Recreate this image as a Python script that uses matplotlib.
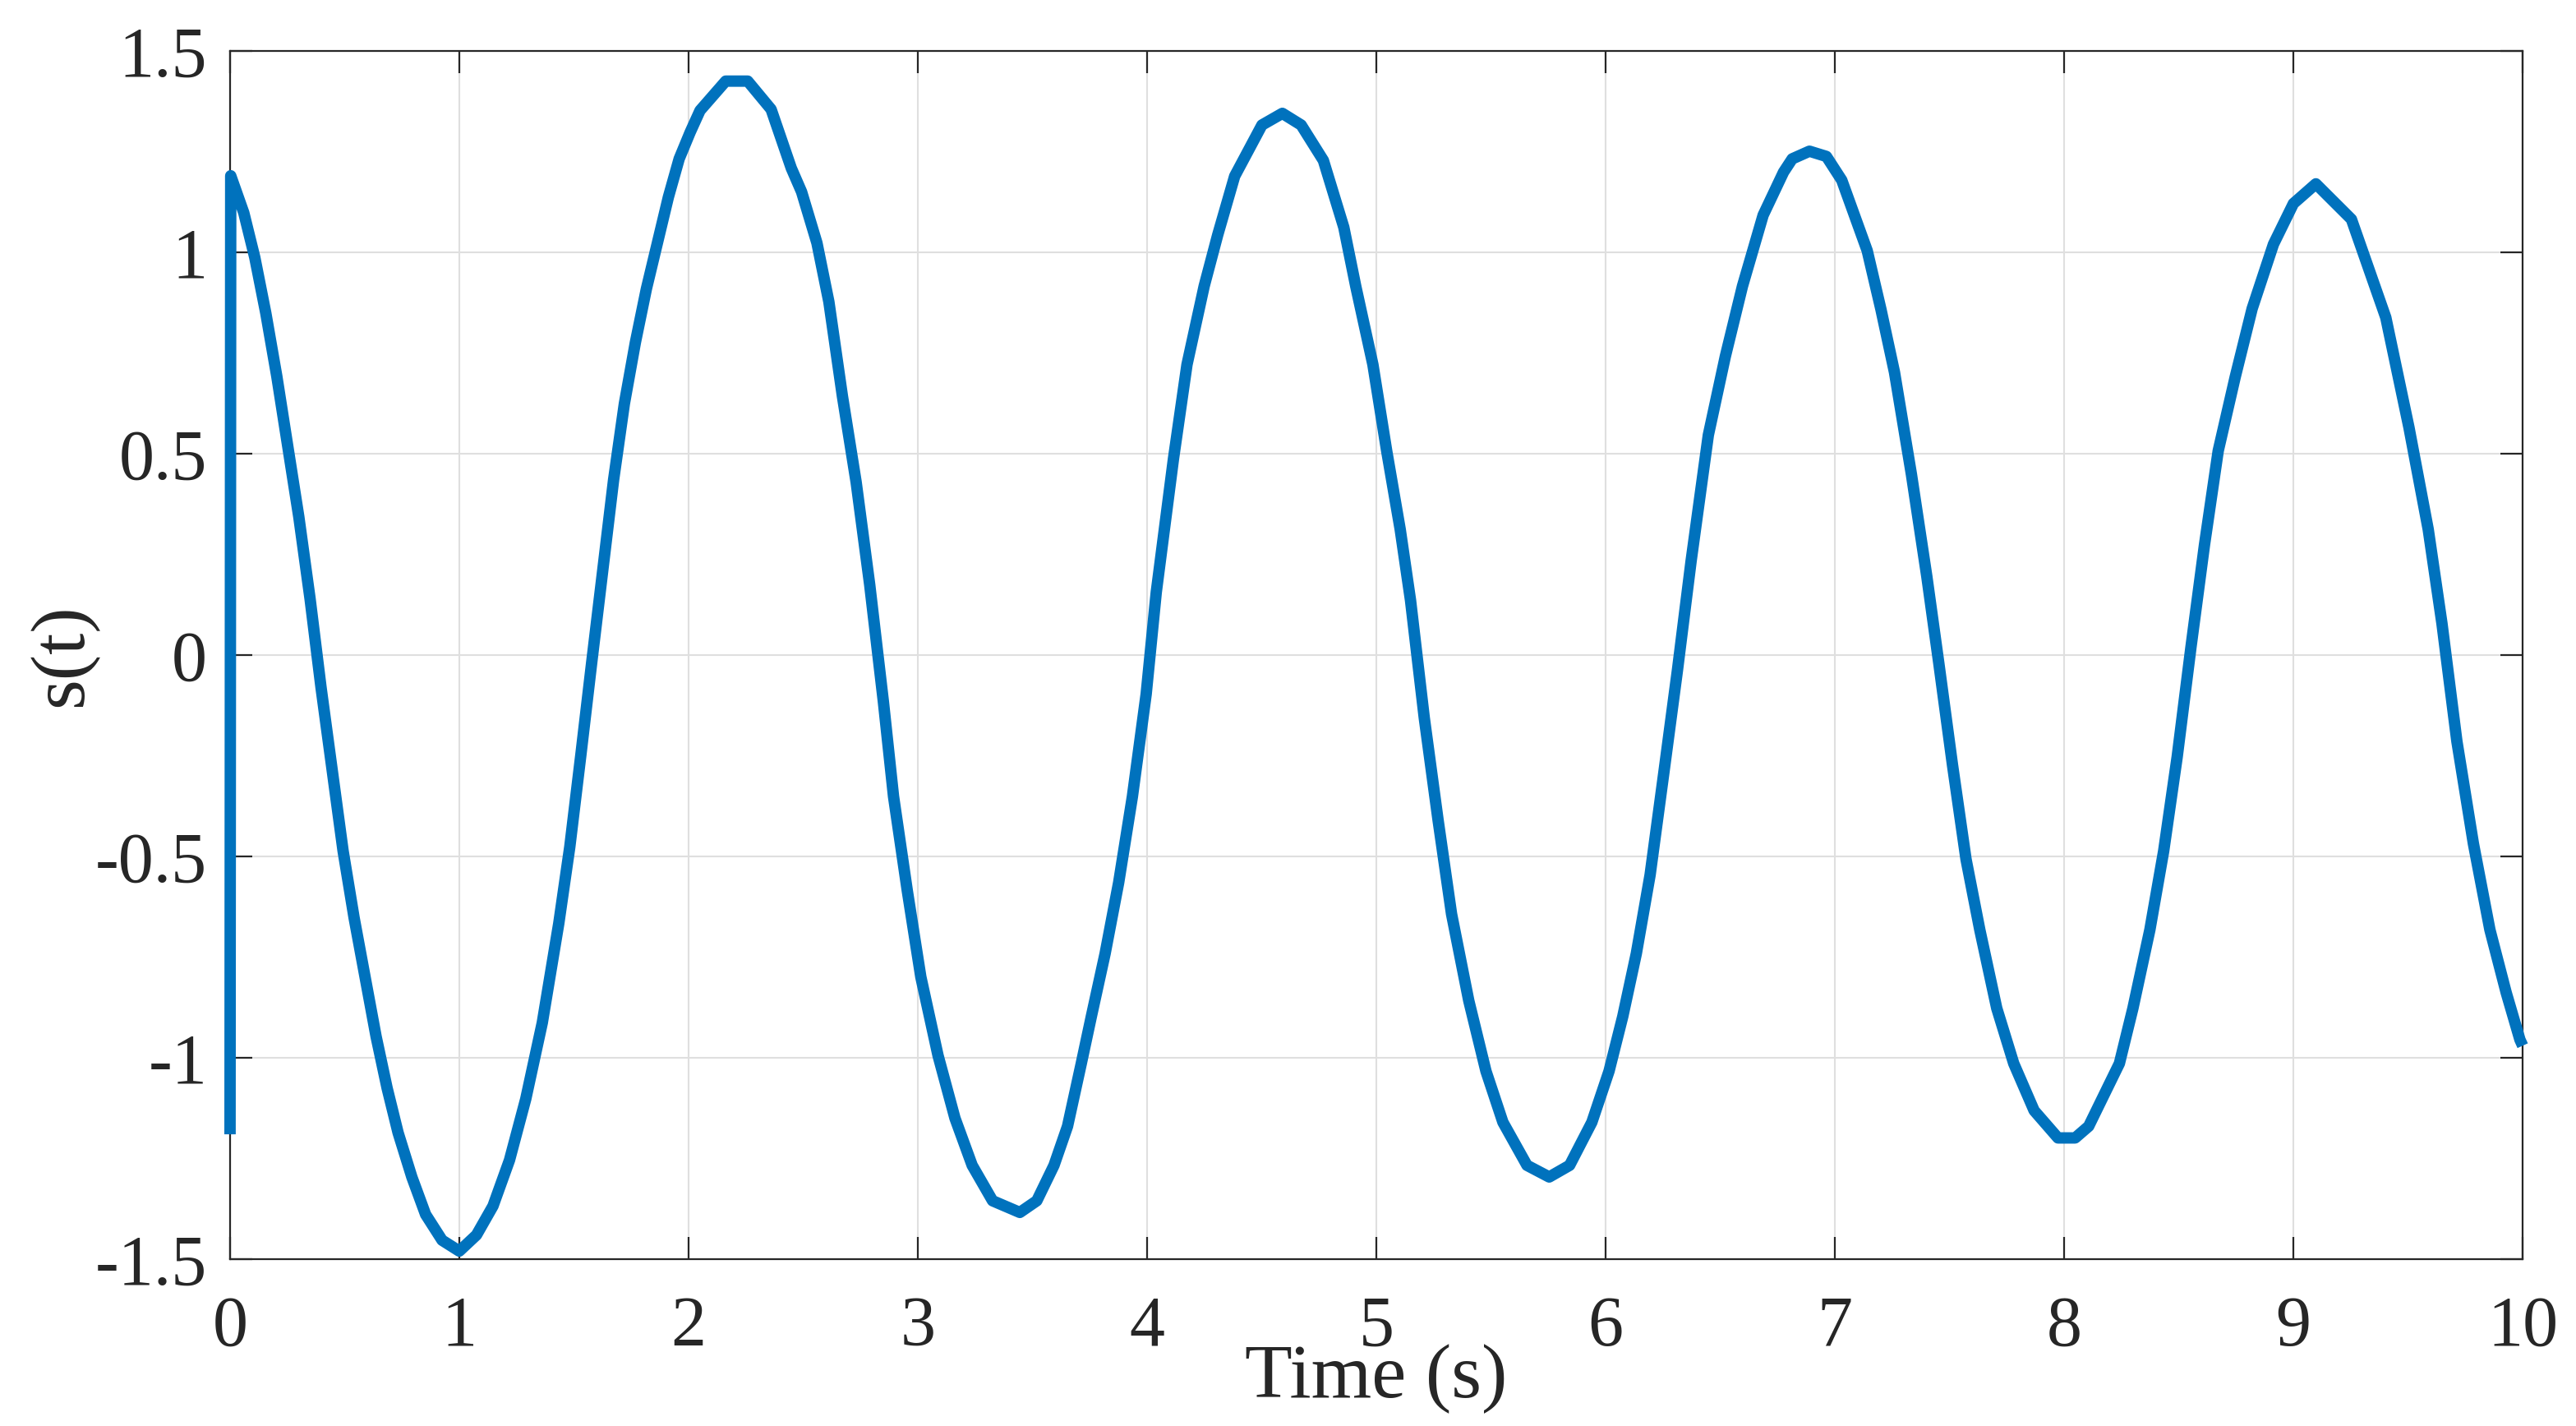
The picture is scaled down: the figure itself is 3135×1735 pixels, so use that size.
import matplotlib
matplotlib.use("Agg")
import matplotlib.pyplot as plt

t = [0.0, 0.003, 0.060, 0.108, 0.156, 0.204, 0.252, 0.300, 0.349, 0.397,
     0.445, 0.493, 0.541, 0.589, 0.637, 0.685, 0.733, 0.793, 0.853, 0.925,
     1.0, 1.075, 1.147, 1.219, 1.290, 1.362, 1.434, 1.482, 1.530, 1.577,
     1.625, 1.673, 1.720, 1.768, 1.816, 1.864, 1.912, 1.959, 2.007, 2.050,
     2.162, 2.258, 2.360, 2.448, 2.493, 2.560, 2.612,
     2.671, 2.731, 2.790, 2.850, 2.894, 2.954, 3.013, 3.088, 3.162, 3.237,
     3.326, 3.445, 3.519, 3.594, 3.653, 3.713, 3.757, 3.817, 3.876, 3.936,
     3.996, 4.040, 4.115, 4.174, 4.249, 4.308, 4.382, 4.501, 4.590, 4.672,
     4.769, 4.858, 4.910, 4.985, 5.045, 5.104, 5.149, 5.209, 5.269, 5.328,
     5.403, 5.478, 5.552, 5.657, 5.754, 5.843, 5.940, 6.015, 6.075, 6.134,
     6.194, 6.254, 6.313, 6.373, 6.448, 6.522, 6.597, 6.687, 6.776, 6.814,
     6.889, 6.963, 7.030, 7.141, 7.201, 7.260, 7.334, 7.401, 7.453, 7.513,
     7.572, 7.632, 7.706, 7.780, 7.869, 7.973, 8.048, 8.107, 8.241, 8.300,
     8.374, 8.434, 8.493, 8.553, 8.612, 8.672, 8.746, 8.820, 8.913, 9.0,
     9.098, 9.253, 9.403, 9.504, 9.588, 9.648, 9.713, 9.785, 9.857, 9.928,
     9.988, 10.0]
s = [-1.19, 1.19, 1.098, 0.987, 0.849, 0.692, 0.517, 0.343, 0.140, -0.081,
     -0.284, -0.486, -0.652, -0.799, -0.947, -1.075, -1.186, -1.296, -1.389, -1.453,
     -1.48, -1.44, -1.368, -1.254, -1.102, -0.913, -0.666, -0.476, -0.249, -0.021,
     0.207, 0.435, 0.624, 0.776, 0.909, 1.023, 1.137, 1.232, 1.298, 1.352,
     1.425, 1.425, 1.355, 1.209, 1.150, 1.023, 0.877,
     0.643, 0.429, 0.175, -0.117, -0.351, -0.585, -0.799, -0.994, -1.150, -1.267,
     -1.355, -1.384, -1.355, -1.267, -1.170, -1.014, -0.897, -0.741, -0.565, -0.351,
     -0.097, 0.156, 0.487, 0.721, 0.916, 1.043, 1.189, 1.316, 1.345, 1.316,
     1.228, 1.062, 0.916, 0.721, 0.507, 0.312, 0.136, -0.156, -0.409, -0.643,
     -0.858, -1.033, -1.160, -1.267, -1.296, -1.267, -1.160, -1.033, -0.897, -0.741,
     -0.546, -0.292, -0.039, 0.234, 0.546, 0.741, 0.916, 1.092, 1.199, 1.232,
     1.251, 1.238, 1.179, 1.004, 0.858, 0.702, 0.448, 0.195, -0.019, -0.273,
     -0.507, -0.682, -0.877, -1.014, -1.131, -1.199, -1.199, -1.170, -1.014, -0.877,
     -0.682, -0.487, -0.253, 0.019, 0.273, 0.507, 0.69, 0.86, 1.02, 1.121,
     1.170, 1.082, 0.838, 0.565, 0.312, 0.078, -0.214, -0.468, -0.682, -0.838,
     -0.955, -0.97]

xticks = [0, 1, 2, 3, 4, 5, 6, 7, 8, 9, 10]
yticks = [-1.5, -1, -0.5, 0, 0.5, 1, 1.5]
ylabels = ["-1.5", "-1", "-0.5", "0", "0.5", "1", "1.5"]

plt.rcParams['font.family'] = ['Liberation Serif', 'DejaVu Serif']

fig = plt.figure(figsize=(15.675, 8.675), dpi=200)
ax = fig.add_axes([0.0893, 0.1170, 0.8900, 0.8473])

ax.plot(t, s, color='#0072BD', linewidth=5.0, clip_on=False,
        solid_joinstyle='round', solid_capstyle='butt', zorder=3)

ax.set_xlim(0, 10)
ax.set_ylim(-1.5, 1.5)
ax.set_xticks(xticks)
ax.set_xticklabels([str(v) for v in xticks])
ax.set_yticks(yticks)
ax.set_yticklabels(ylabels)

ax.grid(True, color='#dfdfdf', linewidth=0.75)
ax.set_axisbelow(True)

dark = '#262626'
for sp in ax.spines.values():
    sp.set_color(dark)
    sp.set_linewidth(0.8)
ax.tick_params(direction='in', length=9.7, width=0.8, color=dark,
               top=True, right=True, labelsize=31, labelcolor=dark)
ax.tick_params(axis='x', pad=16)
ax.tick_params(axis='y', pad=10)

ax.set_xlabel('Time (s)', fontsize=34, color=dark)
ax.xaxis.set_label_coords(0.5, -0.099)
ax.xaxis.label.set_va('center')
ax.set_ylabel('s(t)', fontsize=34, color=dark)
ax.yaxis.set_label_coords(-0.073, 0.5)
ax.yaxis.label.set_va('center')

fig.savefig('out.png', dpi=200)
